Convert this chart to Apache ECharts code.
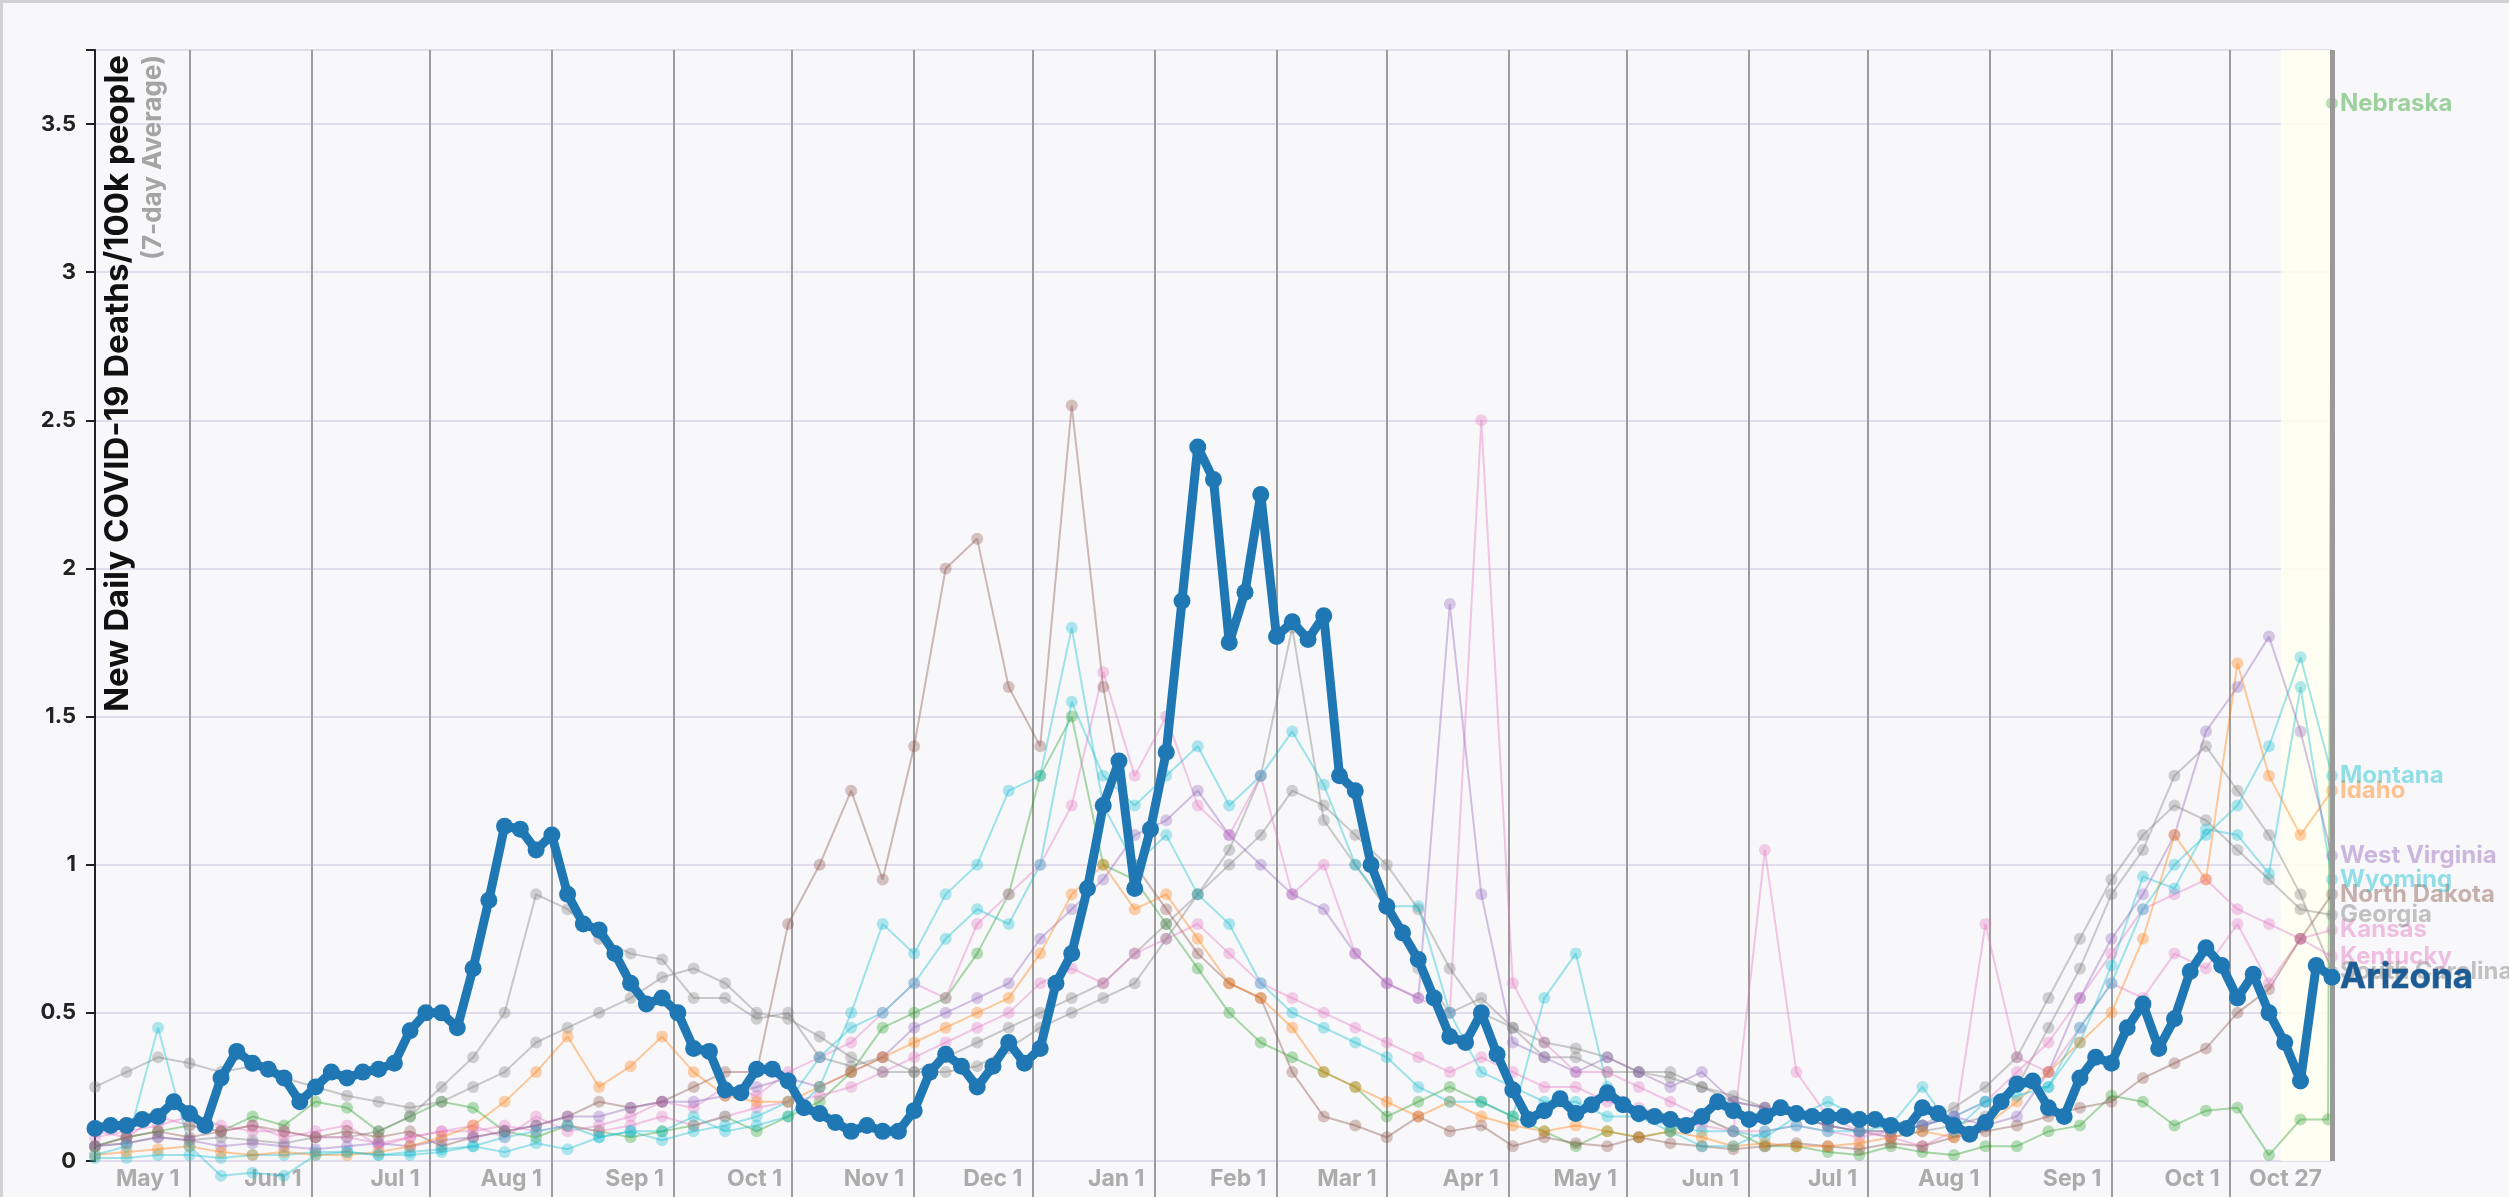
<!DOCTYPE html>
<html lang="en">
<head>
<meta charset="UTF-8">
<title>New Daily COVID-19 Deaths/100k people</title>
<script src="https://cdn.jsdelivr.net/npm/echarts@6/dist/echarts.min.js"></script>
<style>
  html, body { margin: 0; padding: 0; background: #f8f8fa; }
  #chart { width: 2509px; height: 1197px; }
  #frame { position: absolute; left: 0; top: 0; width: 2509px; height: 1197px; box-sizing: border-box;
           border-top: 3px solid #d2d2d6; border-left: 3px solid #d2d2d6; pointer-events: none; }
</style>
</head>
<body>
<div id="chart"></div>
<div id="frame"></div>
<script>
// first day on the x axis (Apr 7 2020), last day Oct 27 2021
const startDay = [2020, 3, 7];
const endDay = '2021-10-27';
const endLabel = 'Oct 27';
const shadeFrom = '2021-10-14';

// Arizona, one reading every 4 days from startDay
const arizona = [
  0.11, 0.12, 0.12, 0.14, 0.15, 0.2, 0.16, 0.12, 0.28, 0.37,
  0.33, 0.31, 0.28, 0.2, 0.25, 0.3, 0.28, 0.3, 0.31, 0.33,
  0.44, 0.5, 0.5, 0.45, 0.65, 0.88, 1.13, 1.12, 1.05, 1.1,
  0.9, 0.8, 0.78, 0.7, 0.6, 0.53, 0.55, 0.5, 0.38, 0.37,
  0.24, 0.23, 0.31, 0.31, 0.27, 0.18, 0.16, 0.13, 0.1, 0.12,
  0.1, 0.1, 0.17, 0.3, 0.36, 0.32, 0.25, 0.32, 0.4, 0.33,
  0.38, 0.6, 0.7, 0.92, 1.2, 1.35, 0.92, 1.12, 1.38, 1.89,
  2.41, 2.3, 1.75, 1.92, 2.25, 1.77, 1.82, 1.76, 1.84, 1.3,
  1.25, 1.0, 0.86, 0.77, 0.68, 0.55, 0.42, 0.4, 0.5, 0.36,
  0.24, 0.14, 0.17, 0.21, 0.16, 0.19, 0.23, 0.19, 0.16, 0.15,
  0.14, 0.12, 0.15, 0.2, 0.17, 0.14, 0.15, 0.18, 0.16, 0.15,
  0.15, 0.15, 0.14, 0.14, 0.12, 0.11, 0.18, 0.16, 0.12, 0.09,
  0.13, 0.2, 0.26, 0.27, 0.18, 0.15, 0.28, 0.35, 0.33, 0.45,
  0.53, 0.38, 0.48, 0.64, 0.72, 0.66, 0.55, 0.63, 0.5, 0.4,
  0.27, 0.66, 0.62
];

// other states, one reading every 8 days from startDay
const nebraska = [
  0.05, 0.08, 0.1, 0.12, 0.1, 0.15, 0.12, 0.2, 0.18, 0.1, 0.15,
  0.2, 0.18, 0.1, 0.08, 0.12, 0.1, 0.08, 0.1, 0.12, 0.15, 0.1,
  0.15, 0.2, 0.3, 0.45, 0.5, 0.55, 0.7, 0.9, 1.3,
  1.5, 1.0, 0.95, 0.8, 0.65, 0.5, 0.4, 0.35, 0.3, 0.25,
  0.15, 0.2, 0.25, 0.2, 0.15, 0.1, 0.05,
  0.1, 0.08, 0.1, 0.15, 0.1, 0.05, 0.05, 0.03, 0.02, 0.05, 0.03, 0.02, 0.05,
  0.05, 0.1, 0.12, 0.22, 0.2, 0.12, 0.17, 0.18, 0.02, 0.14, 3.57
];
const nebraskaDrop = ['2021-10-26', 0.14];

const montana = [
  0.02, 0.05, 0.45, 0.05, -0.05, -0.04, -0.05, 0.02, 0.03, 0.02, 0.02,
  0.03, 0.05, 0.08, 0.1, 0.12, 0.08, 0.1, 0.1, 0.15, 0.1, 0.12,
  0.15, 0.25, 0.5, 0.8, 0.7, 0.9, 1.0, 1.25, 1.3,
  1.8, 1.2, 1.0, 1.1, 0.9, 0.8, 0.6, 0.5, 0.45, 0.4,
  0.35, 0.25, 0.2, 0.2, 0.15, 0.55, 0.7,
  0.25, 0.15, 0.1, 0.05, 0.05, 0.1, 0.12, 0.1, 0.1, 0.12, 0.25, 0.1, 0.2,
  0.22, 0.25, 0.45, 0.6, 0.85, 1.0, 1.1, 1.2, 1.4, 1.7, 1.3
];

const idaho = [
  0.02, 0.03, 0.04, 0.05, 0.03, 0.02, 0.03, 0.02, 0.02, 0.03, 0.05,
  0.08, 0.12, 0.2, 0.3, 0.42, 0.25, 0.32, 0.42, 0.3, 0.22, 0.2,
  0.2, 0.25, 0.3, 0.35, 0.4, 0.45, 0.5, 0.55, 0.7,
  0.9, 1.0, 0.85, 0.9, 0.75, 0.6, 0.55, 0.45, 0.3, 0.25,
  0.2, 0.15, 0.2, 0.15, 0.12, 0.1, 0.12,
  0.1, 0.08, 0.1, 0.08, 0.05, 0.06, 0.05, 0.05, 0.06, 0.08, 0.1, 0.08, 0.12,
  0.2, 0.3, 0.4, 0.5, 0.75, 1.1, 0.95, 1.68, 1.3, 1.1, 1.25
];

const westVirginia = [
  0.05, 0.06, 0.08, 0.07, 0.05, 0.06, 0.05, 0.04, 0.05, 0.06, 0.05,
  0.07, 0.08, 0.1, 0.12, 0.15, 0.15, 0.18, 0.2, 0.2, 0.22, 0.25,
  0.28, 0.25, 0.3, 0.35, 0.45, 0.5, 0.55, 0.6, 0.75,
  0.85, 0.95, 1.1, 1.15, 1.25, 1.1, 1.0, 0.9, 0.85, 0.7,
  0.6, 0.55, 1.88, 0.9, 0.4, 0.35, 0.3,
  0.35, 0.3, 0.25, 0.3, 0.2, 0.18, 0.15, 0.12, 0.1, 0.1, 0.12, 0.15, 0.12,
  0.15, 0.3, 0.55, 0.75, 0.9, 1.1, 1.45, 1.6, 1.77, 1.45, 1.03
];

const wyoming = [
  0.01, 0.01, 0.02, 0.02, 0.01, 0.02, 0.02, 0.03, 0.03,
  0.02, 0.03, 0.04, 0.05, 0.03, 0.06, 0.04, 0.08, 0.1, 0.07,
  0.1, 0.12, 0.15, 0.2, 0.35, 0.45, 0.5,
  0.6, 0.75, 0.85, 0.8, 1.0, 1.55, 1.3, 1.2,
  1.3, 1.4, 1.2, 1.3, 1.45, 1.27, 1.0,
  0.86, 0.86, 0.5, 0.3, 0.25,
  0.2, 0.2, 0.15, 0.15, 0.12, 0.1, 0.1, 0.08, 0.15, 0.2, 0.15, 0.1, 0.12, 0.15, 0.2,
  0.25, 0.25, 0.4, 0.66, 0.96, 0.92, 1.12, 1.1, 0.97, 1.6, 0.95
];

const northDakota = [
  0.05, 0.08, 0.1, 0.08, 0.1, 0.12, 0.1, 0.08, 0.1, 0.08, 0.1,
  0.05, 0.08, 0.1, 0.12, 0.15, 0.2, 0.18, 0.2, 0.25, 0.3, 0.3,
  0.8, 1.0, 1.25, 0.95, 1.4, 2.0, 2.1, 1.6, 1.4,
  2.55, 1.6, 1.0, 0.85, 0.7, 0.6, 0.55, 0.3, 0.15, 0.12,
  0.08, 0.15, 0.1, 0.12, 0.05, 0.08, 0.06,
  0.05, 0.08, 0.06, 0.05, 0.04, 0.05, 0.06, 0.05, 0.04, 0.06, 0.05, 0.08, 0.1,
  0.12, 0.15, 0.18, 0.2, 0.28, 0.33, 0.38, 0.5, 0.58, 0.75, 0.9
];

const georgia = [
  0.25, 0.3, 0.35, 0.33, 0.3, 0.32, 0.28, 0.25, 0.22, 0.2, 0.18,
  0.2, 0.25, 0.3, 0.4, 0.45, 0.5, 0.55, 0.62, 0.65, 0.6, 0.5,
  0.48, 0.42, 0.35, 0.3, 0.3, 0.3, 0.32, 0.38, 0.45,
  0.5, 0.55, 0.6, 0.75, 0.9, 1.0, 1.1, 1.25, 1.2, 1.1,
  1.0, 0.85, 0.65, 0.5, 0.45, 0.4, 0.38,
  0.35, 0.3, 0.28, 0.25, 0.22, 0.18, 0.15, 0.12, 0.1, 0.1, 0.12, 0.18, 0.25,
  0.35, 0.55, 0.75, 0.95, 1.1, 1.2, 1.15, 1.05, 0.95, 0.85, 0.83
];

const kansas = [
  0.1, 0.08, 0.15, 0.12, 0.1, 0.12, 0.08, 0.1, 0.12, 0.05, 0.08,
  0.1, 0.12, 0.08, 0.15, 0.1, 0.12, 0.15, 0.2, 0.18, 0.25, 0.22,
  0.3, 0.35, 0.4, 0.5, 0.6, 0.55, 0.8, 0.9, 1.0,
  1.2, 1.65, 1.3, 1.5, 1.2, 1.1, 1.3, 0.9, 1.0, 0.7,
  0.6, 0.55, 0.5, 2.5, 0.6, 0.4, 0.3,
  0.3, 0.25, 0.2, 0.15, 0.1, 1.05, 0.3, 0.15, 0.1, 0.08, 0.05, 0.1, 0.8,
  0.35, 0.3, 0.45, 0.6, 0.55, 0.7, 0.65, 0.8, 0.6, 0.75, 0.78
];

const kentucky = [
  0.08, 0.1, 0.12, 0.15, 0.12, 0.1, 0.1, 0.08, 0.08, 0.06, 0.08,
  0.1, 0.1, 0.12, 0.1, 0.12, 0.1, 0.12, 0.15, 0.12, 0.15, 0.18,
  0.2, 0.22, 0.25, 0.3, 0.35, 0.4, 0.45, 0.5, 0.6,
  0.65, 0.6, 0.7, 0.75, 0.8, 0.7, 0.6, 0.55, 0.5, 0.45,
  0.4, 0.35, 0.3, 0.35, 0.3, 0.25, 0.25,
  0.2, 0.18, 0.15, 0.12, 0.1, 0.1, 0.12, 0.1, 0.08, 0.1, 0.12, 0.15, 0.2,
  0.3, 0.4, 0.55, 0.7, 0.85, 0.9, 0.95, 0.85, 0.8, 0.75, 0.69
];

const southCarolina = [
  0.05, 0.06, 0.08, 0.07, 0.08, 0.07, 0.06, 0.08, 0.08, 0.1, 0.15,
  0.25, 0.35, 0.5, 0.9, 0.85, 0.75, 0.7, 0.68, 0.55, 0.55, 0.48,
  0.5, 0.35, 0.32, 0.35, 0.3, 0.35, 0.4, 0.45, 0.5,
  0.55, 0.6, 0.7, 0.8, 0.9, 1.05, 1.3, 1.8, 1.15, 1.0,
  0.85, 0.65, 0.5, 0.55, 0.45, 0.35, 0.35,
  0.3, 0.3, 0.3, 0.25, 0.2, 0.18, 0.15, 0.12, 0.1, 0.08, 0.1, 0.12, 0.15,
  0.25, 0.45, 0.65, 0.9, 1.05, 1.3, 1.4, 1.25, 1.1, 0.9, 0.64
];

const MONTHS = ['Jan', 'Feb', 'Mar', 'Apr', 'May', 'Jun', 'Jul', 'Aug', 'Sep', 'Oct', 'Nov', 'Dec'];
const FONT = 'Inter, "Open Sans", sans-serif';
const TICK_GRAY = '#9c9c9c';
const LABEL_GRAY = '#ababab';

function dayString(offset) {
  const d = new Date(startDay[0], startDay[1], startDay[2] + offset);
  return d.getFullYear() + '-' + String(d.getMonth() + 1).padStart(2, '0') + '-' + String(d.getDate()).padStart(2, '0');
}
const pairs = (values, step) => values.map((v, i) => [dayString(i * step), v]);

function fade(hex, a) {
  const n = parseInt(hex.slice(1), 16);
  return `rgba(${n >> 16}, ${(n >> 8) & 255}, ${n & 255}, ${a})`;
}

const nebraskaData = pairs(nebraska, 8);
nebraskaData.splice(nebraskaData.length - 1, 0, nebraskaDrop);

const others = [
  { name: 'Nebraska', color: '#2ca02c', data: nebraskaData },
  { name: 'South Carolina', color: '#7f7f7f', data: pairs(southCarolina, 8) },
  { name: 'Kentucky', color: '#e377c2', data: pairs(kentucky, 8) },
  { name: 'Kansas', color: '#e377c2', data: pairs(kansas, 8) },
  { name: 'Georgia', color: '#7f7f7f', data: pairs(georgia, 8) },
  { name: 'North Dakota', color: '#8c564b', data: pairs(northDakota, 8) },
  { name: 'Wyoming', color: '#17becf', data: pairs(wyoming, 8) },
  { name: 'West Virginia', color: '#9467bd', data: pairs(westVirginia, 8) },
  { name: 'Idaho', color: '#ff7f0e', data: pairs(idaho, 8) },
  { name: 'Montana', color: '#17becf', data: pairs(montana, 8) }
];

const faintSeries = others.map(s => ({
  name: s.name,
  type: 'line',
  data: s.data,
  clip: false,
  symbol: 'circle',
  symbolSize: 12,
  showAllSymbol: true,
  z: 2,
  lineStyle: { color: s.color, width: 2, opacity: 0.4 },
  itemStyle: { color: s.color, opacity: 0.34 },
  emphasis: { disabled: true },
  endLabel: {
    show: true, formatter: s.name, distance: 8,
    color: fade(s.color, 0.45), fontFamily: FONT, fontWeight: 'bold', fontSize: 24
  }
}));

const chart = echarts.init(document.getElementById('chart'));
chart.setOption({
  animation: false,
  backgroundColor: '#f8f8fa',
  grid: { left: 95, right: 177, top: 50, bottom: 36 },
  xAxis: {
    type: 'time',
    min: dayString(0),
    max: endDay,
    minInterval: 28 * 86400000,
    maxInterval: 31 * 86400000,
    axisLine: { show: false },
    axisTick: { show: true, length: 36, lineStyle: { color: TICK_GRAY, width: 2 } },
    splitLine: { show: true, lineStyle: { color: TICK_GRAY, width: 2 } },
    axisLabel: {
      showMinLabel: false,
      align: 'right',
      padding: [0, 10, 0, 0],
      margin: 7,
      color: LABEL_GRAY,
      fontFamily: FONT,
      fontWeight: 'bold',
      fontSize: 23,
      formatter: v => { const d = new Date(v); return MONTHS[d.getMonth()] + ' ' + d.getDate(); }
    }
  },
  yAxis: {
    type: 'value',
    min: 0,
    max: 3.75,
    interval: 0.5,
    axisLine: { show: true, lineStyle: { color: '#222', width: 2 } },
    axisTick: { show: true, length: 9, lineStyle: { color: '#222', width: 2 } },
    splitLine: { lineStyle: { color: '#e1ddeb', width: 2 } },
    axisLabel: {
      margin: 19, color: '#222', fontFamily: FONT, fontWeight: 'bold', fontSize: 22,
      formatter: v => (v > 3.6 ? '' : String(v))
    }
  },
  graphic: [
    {
      type: 'text', x: 102, y: 55, rotation: Math.PI / 2, z: 10,
      style: {
        text: 'New Daily COVID-19 Deaths/100k people', fill: '#111',
        font: 'bold 33px ' + FONT, align: 'right', verticalAlign: 'top',
        textAlign: 'right', textVerticalAlign: 'top'
      }
    },
    {
      type: 'text', x: 140, y: 55, rotation: Math.PI / 2, z: 10,
      style: {
        text: '(7-day Average)', fill: '#a4a4a4',
        font: 'bold 26px ' + FONT, align: 'right', verticalAlign: 'top',
        textAlign: 'right', textVerticalAlign: 'top'
      }
    }
  ],
  series: [
    {
      name: 'recent', type: 'line', data: [], z: 1, silent: true,
      markArea: {
        silent: true,
        itemStyle: { color: 'rgba(255, 255, 240, 0.85)' },
        data: [[{ xAxis: shadeFrom }, { xAxis: endDay }]]
      },
      markLine: {
        silent: true, symbol: 'none',
        lineStyle: { color: '#9a9a9a', width: 5, type: 'solid' },
        label: {
          show: true, position: 'start', formatter: endLabel,
          color: LABEL_GRAY, fontFamily: FONT, fontWeight: 'bold', fontSize: 23,
          align: 'right', verticalAlign: 'top', padding: [0, 10, 0, 0], distance: 7
        },
        data: [{ xAxis: endDay }]
      }
    },
    ...faintSeries,
    {
      name: 'Arizona',
      type: 'line',
      data: pairs(arizona, 4),
      symbol: 'circle',
      symbolSize: 17,
      showAllSymbol: true,
      z: 5,
      lineStyle: { color: '#1f77b4', width: 9 },
      itemStyle: { color: '#1f77b4' },
      emphasis: { disabled: true },
      endLabel: {
        show: true, formatter: 'Arizona', distance: 8,
        color: '#1b5c96', fontFamily: FONT, fontWeight: 'bold', fontSize: 35,
        textBorderColor: 'rgba(20, 60, 100, 0.5)', textBorderWidth: 1
      }
    }
  ]
});
</script>
</body>
</html>
